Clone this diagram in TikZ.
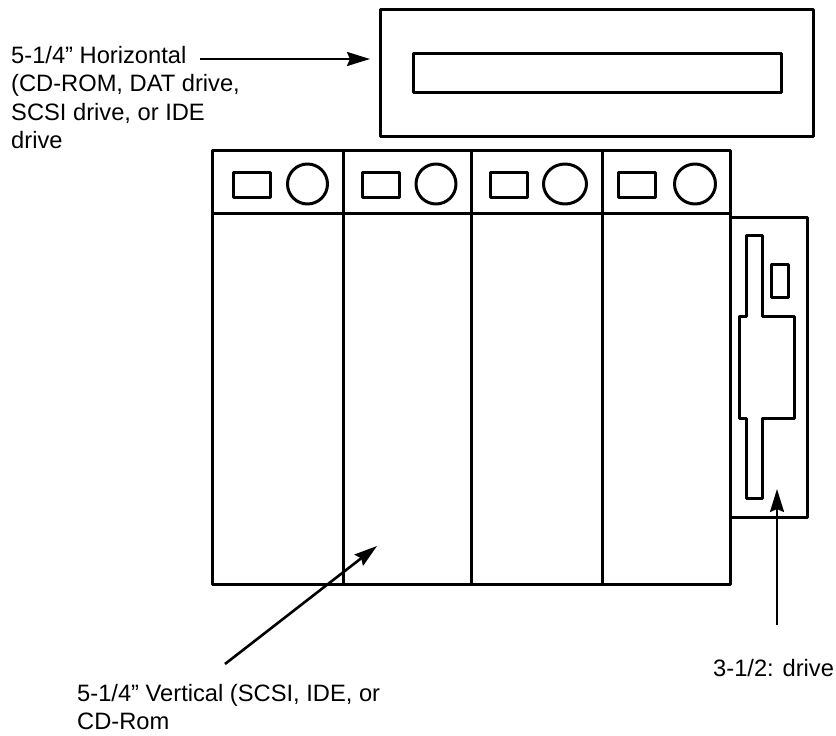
\documentclass[tikz,border=0pt]{standalone}
\usepackage{fontspec}
\setmainfont{Liberation Sans}
\usetikzlibrary{arrows.meta}
\begin{document}
\begin{tikzpicture}[
  x=1pt, y=-1pt,
  every node/.style={font=\fontsize{23.7}{28.5}\selectfont, inner sep=0pt},
  part/.style={draw, line width=3pt, line join=round},
  label/.style={align=left, anchor=north west},
  arr/.style={-{Stealth[length=23pt,width=14pt,inset=3pt]}, line width=2.6pt},
]
\useasboundingbox (0,0) rectangle (836,736);
% horizontal drive
\draw[part] (380,9) rectangle (813,136);
\draw[part] (413,53) rectangle (781,92);
% vertical bays
\draw[part] (212,150) rectangle (730,584);
\draw[part] (212,213) -- (730,213);
\foreach \x in {343,471,602}
  \draw[part] (\x,150) -- (\x,584);
\foreach \x/\c/\r in {233/307.5/20,362/436/20,490/565/21.5,618/695/20.5} {
  \draw[part] (\x,172) rectangle ++(37,25);
  \draw[part] (\c,184) ellipse [x radius=\r, y radius=20];
}
% 3-1/2 drive
\draw[part] (730,217) -- (807,217) -- (807,517) -- (730,517);
\draw[part] (746,235) -- (762,235) -- (762,316) -- (794,316) -- (794,418)
  -- (762,418) -- (762,498) -- (746,498) -- (746,418) -- (739,418)
  -- (739,316) -- (746,316) -- cycle;
\draw[part] (771,264) rectangle (788,297);
% labels
\node[label](lblhoriz) at (11,46)
  {5-1/4” Horizontal\\(CD-ROM, DAT drive,\\SCSI drive, or IDE\\drive};
\node[label](lblvert) at (77,684) {5-1/4” Vertical (SCSI, IDE, or\\CD-Rom};
\node[label](lbldrive) at (713,659.5) {3-1/2: drive};
\coordinate (horiztail) at (200,59);
\coordinate (horiztip) at (370,59);
\coordinate (verttail) at (225,664);
\coordinate (verttip) at (377,546);
\coordinate (drivetail) at (777,625);
\coordinate (drivetip) at (777,489);
\draw[arr] (horiztail) -- (horiztip);
\draw[arr] (verttail) -- (verttip);
\draw[arr] (drivetail) -- (drivetip);
\end{tikzpicture}
\end{document}
